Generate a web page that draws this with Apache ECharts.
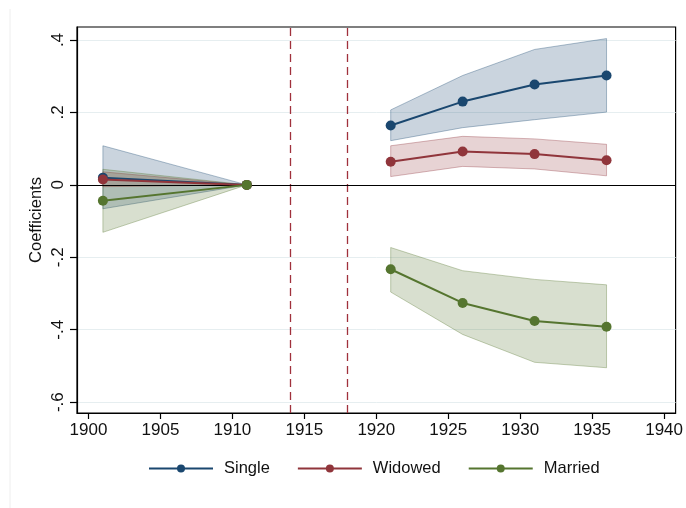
<!DOCTYPE html>
<html><head><meta charset="utf-8">
<script src="https://cdn.jsdelivr.net/npm/echarts@6/dist/echarts.min.js"></script>
<style>html,body{margin:0;padding:0;background:#fff}#c{width:686px;height:508px}</style>
</head><body><div id="c"></div>
<script>
const years = [1901, 1911, 1921, 1926, 1931, 1936];
const single    = [0.020, 0, 0.164, 0.230, 0.277, 0.302];
const singleLo  = [-0.066, 0, 0.122, 0.158, 0.180, 0.201];
const singleHi  = [0.108, 0, 0.207, 0.302, 0.374, 0.404];
const widowed   = [0.015, 0, 0.064, 0.092, 0.085, 0.068];
const widowedLo = [-0.005, 0, 0.023, 0.051, 0.044, 0.025];
const widowedHi = [0.036, 0, 0.108, 0.134, 0.127, 0.112];
const married   = [-0.044, 0, -0.233, -0.326, -0.376, -0.392];
const marriedLo = [-0.131, 0, -0.296, -0.413, -0.490, -0.505];
const marriedHi = [0.043, 0, -0.173, -0.237, -0.261, -0.276];
const xTicks = [1900, 1905, 1910, 1915, 1920, 1925, 1930, 1935, 1940];
const yTicks = [-0.6, -0.4, -0.2, 0, 0.2, 0.4];
const eventYears = [1914, 1918];
const seriesNames = ['Single', 'Widowed', 'Married'];

const segments = [[0, 1], [2, 3, 4, 5]];
const FONT = 'Liberation Sans, Arial, sans-serif';

function fmtY(v) {
  const r = Math.round(v * 10) / 10;
  if (r === 0) return '0';
  return (r < 0 ? '-' : '') + String(Math.abs(r)).replace(/^0/, '');
}

function band(name, lo, hi, fill, stroke) {
  return {
    type: 'custom', name: name + ' CI', silent: true, z: 1,
    data: years.map((y, i) => [y, lo[i], hi[i]]),
    encode: { x: 0, y: [1, 2] },
    renderItem(params, api) {
      if (params.dataIndex !== 0) return;
      const children = segments.map(g => {
        const top = g.map(i => api.coord([years[i], hi[i]]));
        const bot = g.slice().reverse().map(i => api.coord([years[i], lo[i]]));
        return { type: 'polygon', shape: { points: top.concat(bot) },
          style: { fill: fill, stroke: stroke, lineWidth: 1 } };
      });
      return { type: 'group', children: children };
    }
  };
}

function lines(name, vals, color) {
  return segments.map(g => ({
    type: 'line', name: name, z: 3,
    data: g.map(i => [years[i], vals[i]]),
    symbol: 'circle', symbolSize: 10, showSymbol: true,
    lineStyle: { color: color, width: 2 },
    itemStyle: { color: color },
    emphasis: { disabled: true }, animation: false
  }));
}

const colors = ['#1a476f', '#90353b', '#55752f'];
const fills = ['rgba(26,71,111,0.23)', 'rgba(144,53,59,0.22)', 'rgba(85,117,47,0.23)'];
const strokes = ['rgba(26,71,111,0.35)', 'rgba(144,53,59,0.35)', 'rgba(85,117,47,0.35)'];

const refSeries = {
  type: 'line', name: 'refs', data: [], silent: true, z: 0,
  markLine: {
    silent: true, symbol: ['none', 'none'], label: { show: false }, animation: false, z: 0,
    data: yTicks.filter(v => v !== 0).map(v => ({ yAxis: v, lineStyle: { color: '#e6eef0', width: 1, type: 'solid' } }))
  }
};
const refSeries2 = {
  type: 'line', name: 'refs2', data: [], silent: true, z: 4,
  markLine: {
    silent: true, symbol: ['none', 'none'], label: { show: false }, animation: false, z: 2,
    data: eventYears.map(v => ({ xAxis: v, lineStyle: { color: '#a0313c', width: 1.3, type: [8, 5] } }))
      .concat([{ yAxis: 0, lineStyle: { color: '#000', width: 1.2, type: 'solid' } }])
  }
};

const chart = echarts.init(document.getElementById('c'), null, { renderer: 'canvas' });
chart.setOption({
  animation: false,
  backgroundColor: '#fff',
  textStyle: { fontFamily: FONT },
  graphic: [{ type: 'line', shape: { x1: 10, y1: 9, x2: 10, y2: 508 },
    style: { stroke: '#eeeeee', lineWidth: 1 }, silent: true, z: -1 }],
  grid: { left: 77, right: 9, top: 27, bottom: 95, show: true, borderColor: '#000', borderWidth: 1.2, backgroundColor: 'transparent' },
  xAxis: {
    type: 'value', min: 1899.2, max: 1940.8,
    axisLine: { show: true, onZero: false, lineStyle: { color: '#000', width: 1.2 } },
    axisTick: { show: true, length: 6, customValues: xTicks, lineStyle: { color: '#000', width: 1.2 } },
    axisLabel: { customValues: xTicks, formatter: v => String(Math.round(v)), color: '#111', fontSize: 17, margin: 9, fontFamily: FONT },
    splitLine: { show: false }
  },
  yAxis: {
    type: 'value', min: -0.63, max: 0.436,
    name: 'Coefficients', nameLocation: 'middle', nameGap: 32, nameMoveOverlap: false,
    nameTextStyle: { color: '#111', fontSize: 16.5, fontFamily: FONT },
    axisLine: { show: true, onZero: false, lineStyle: { color: '#000', width: 1.2 } },
    axisTick: { show: true, length: 7, customValues: yTicks, lineStyle: { color: '#000', width: 1.2 } },
    axisLabel: { customValues: yTicks, rotate: 90, formatter: fmtY, color: '#111', fontSize: 17, margin: 10, fontFamily: FONT },
    splitLine: { show: false }
  },
  legend: {
    data: seriesNames, left: 148, top: 460, orient: 'horizontal', padding: 0,
    itemWidth: 64, itemHeight: 10, itemGap: 27,
    textStyle: { color: '#111', fontSize: 16.5, fontFamily: FONT, padding: [0, 0, 0, 6] },
    selectedMode: false
  },
  series: [refSeries,
    band('Single', singleLo, singleHi, fills[0], strokes[0]),
    band('Widowed', widowedLo, widowedHi, fills[1], strokes[1]),
    band('Married', marriedLo, marriedHi, fills[2], strokes[2]),
    refSeries2
  ].concat(lines('Single', single, colors[0]), lines('Widowed', widowed, colors[1]), lines('Married', married, colors[2]))
});
</script>
</body></html>
